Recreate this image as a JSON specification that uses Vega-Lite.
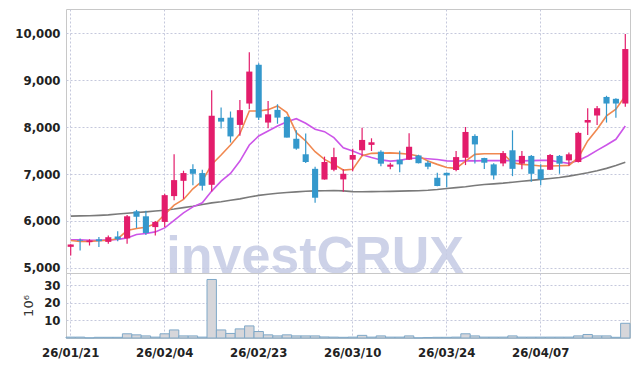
{
  "$schema": "https://vega.github.io/schema/vega-lite/v6.json",
  "background": "white",
  "padding": {"left": 14, "top": 8, "right": 10, "bottom": 5},
  "spacing": 0,
  "bounds": "flush",
  "config": {
    "view": {"stroke": "#c8c8c8"},
    "axis": {"labelFont": "DejaVu Sans Condensed", "labelFontWeight": "bold", "labelFontSize": 13, "labelColor": "#222", "gridColor": "#c5c8dc", "gridDash": [2, 2], "gridOpacity": 1, "ticks": false, "domain": false, "labelPadding": 6}
  },
  "datasets": {
    "d": [
      {"date": "26/01/21", "open": 5450, "high": 5505, "low": 5265, "close": 5500, "vol": 0.5, "ma5": 5584, "ma20": 5597, "ma60": 6103},
      {"date": "26/01/22", "open": 5590, "high": 5625, "low": 5370, "close": 5575, "vol": 0.5, "ma5": 5565, "ma20": 5597, "ma60": 6108},
      {"date": "26/01/23", "open": 5550, "high": 5612, "low": 5478, "close": 5585, "vol": 0.1, "ma5": 5562, "ma20": 5590, "ma60": 6112},
      {"date": "26/01/26", "open": 5610, "high": 5661, "low": 5448, "close": 5570, "vol": 0.4, "ma5": 5580, "ma20": 5588, "ma60": 6120},
      {"date": "26/01/27", "open": 5555, "high": 5690, "low": 5516, "close": 5655, "vol": 0.4, "ma5": 5590, "ma20": 5597, "ma60": 6130},
      {"date": "26/01/28", "open": 5670, "high": 5783, "low": 5570, "close": 5612, "vol": 0.4, "ma5": 5620, "ma20": 5605, "ma60": 6150},
      {"date": "26/01/29", "open": 5630, "high": 6130, "low": 5515, "close": 6100, "vol": 2.4, "ma5": 5797, "ma20": 5640, "ma60": 6165},
      {"date": "26/01/30", "open": 6205, "high": 6235, "low": 5850, "close": 6090, "vol": 1.8, "ma5": 5840, "ma20": 5712, "ma60": 6180},
      {"date": "26/02/02", "open": 6100, "high": 6220, "low": 5700, "close": 5745, "vol": 1.2, "ma5": 5868, "ma20": 5733, "ma60": 6195},
      {"date": "26/02/03", "open": 5870, "high": 6000, "low": 5690, "close": 5980, "vol": 0.5, "ma5": 5939, "ma20": 5768, "ma60": 6212},
      {"date": "26/02/04", "open": 5980, "high": 6580, "low": 5870, "close": 6550, "vol": 2.4, "ma5": 6139, "ma20": 5853, "ma60": 6230},
      {"date": "26/02/05", "open": 6530, "high": 7420, "low": 6440, "close": 6870, "vol": 4.6, "ma5": 6337, "ma20": 6011, "ma60": 6255},
      {"date": "26/02/06", "open": 6855, "high": 7070, "low": 6470, "close": 7020, "vol": 1.2, "ma5": 6459, "ma20": 6173, "ma60": 6285},
      {"date": "26/02/09", "open": 7105, "high": 7210, "low": 6760, "close": 7005, "vol": 1.2, "ma5": 6685, "ma20": 6301, "ma60": 6315},
      {"date": "26/02/10", "open": 7020, "high": 7090, "low": 6650, "close": 6750, "vol": 0.5, "ma5": 6849, "ma20": 6387, "ma60": 6350},
      {"date": "26/02/11", "open": 6770, "high": 8785, "low": 6625, "close": 8240, "vol": 33.4, "ma5": 7205, "ma20": 6636, "ma60": 6385},
      {"date": "26/02/12", "open": 8195, "high": 8415, "low": 7970, "close": 8115, "vol": 4.6, "ma5": 7404, "ma20": 6849, "ma60": 6410},
      {"date": "26/02/13", "open": 8200, "high": 8330, "low": 7670, "close": 7800, "vol": 2.6, "ma5": 7617, "ma20": 7013, "ma60": 6440},
      {"date": "26/02/19", "open": 8045, "high": 8575, "low": 7815, "close": 8360, "vol": 5.2, "ma5": 7858, "ma20": 7276, "ma60": 6470},
      {"date": "26/02/20", "open": 8500, "high": 9590, "low": 8380, "close": 9180, "vol": 6.9, "ma5": 8342, "ma20": 7617, "ma60": 6510},
      {"date": "26/02/23", "open": 9325, "high": 9355, "low": 8150, "close": 8200, "vol": 3.7, "ma5": 8342, "ma20": 7809, "ma60": 6545},
      {"date": "26/02/24", "open": 8095, "high": 8555, "low": 7975, "close": 8270, "vol": 1.8, "ma5": 8370, "ma20": 7916, "ma60": 6570},
      {"date": "26/02/25", "open": 8365, "high": 8485, "low": 8070, "close": 8200, "vol": 1.2, "ma5": 8449, "ma20": 8022, "ma60": 6590},
      {"date": "26/02/26", "open": 8215, "high": 8230, "low": 7775, "close": 7775, "vol": 1.8, "ma5": 8306, "ma20": 8114, "ma60": 6605},
      {"date": "26/02/27", "open": 7750, "high": 7930, "low": 7515, "close": 7540, "vol": 1.2, "ma5": 7880, "ma20": 8178, "ma60": 6620},
      {"date": "26/03/03", "open": 7420, "high": 7860, "low": 7235, "close": 7255, "vol": 1.2, "ma5": 7702, "ma20": 8080, "ma60": 6632},
      {"date": "26/03/04", "open": 7110, "high": 7155, "low": 6390, "close": 6495, "vol": 1.2, "ma5": 7474, "ma20": 7952, "ma60": 6640},
      {"date": "26/03/05", "open": 6885, "high": 7370, "low": 6880, "close": 7255, "vol": 0.6, "ma5": 7312, "ma20": 7901, "ma60": 6645},
      {"date": "26/03/06", "open": 7090, "high": 7560, "low": 7060, "close": 7360, "vol": 0.5, "ma5": 7205, "ma20": 7773, "ma60": 6648},
      {"date": "26/03/09", "open": 6885, "high": 7100, "low": 6620, "close": 7005, "vol": 0.4, "ma5": 7084, "ma20": 7560, "ma60": 6640},
      {"date": "26/03/10", "open": 7305, "high": 7540, "low": 7060, "close": 7405, "vol": 0.5, "ma5": 7099, "ma20": 7490, "ma60": 6625},
      {"date": "26/03/11", "open": 7505, "high": 7985, "low": 7385, "close": 7725, "vol": 1.5, "ma5": 7390, "ma20": 7410, "ma60": 6622},
      {"date": "26/03/12", "open": 7620, "high": 7760, "low": 7490, "close": 7675, "vol": 0.5, "ma5": 7440, "ma20": 7350, "ma60": 6625},
      {"date": "26/03/13", "open": 7475, "high": 7505, "low": 7165, "close": 7220, "vol": 1.2, "ma5": 7445, "ma20": 7300, "ma60": 6628},
      {"date": "26/03/16", "open": 7155, "high": 7240, "low": 7100, "close": 7200, "vol": 0.5, "ma5": 7450, "ma20": 7275, "ma60": 6630},
      {"date": "26/03/17", "open": 7305, "high": 7495, "low": 7040, "close": 7205, "vol": 0.5, "ma5": 7440, "ma20": 7290, "ma60": 6635},
      {"date": "26/03/18", "open": 7305, "high": 7865, "low": 7300, "close": 7580, "vol": 1.2, "ma5": 7420, "ma20": 7330, "ma60": 6640},
      {"date": "26/03/19", "open": 7395, "high": 7410, "low": 7225, "close": 7230, "vol": 0.1, "ma5": 7383, "ma20": 7340, "ma60": 6645},
      {"date": "26/03/20", "open": 7240, "high": 7280, "low": 7100, "close": 7155, "vol": 0.3, "ma5": 7276, "ma20": 7325, "ma60": 6655},
      {"date": "26/03/23", "open": 6920, "high": 7025, "low": 6740, "close": 6745, "vol": 0.4, "ma5": 7205, "ma20": 7310, "ma60": 6670},
      {"date": "26/03/24", "open": 7025, "high": 7030, "low": 6720, "close": 6970, "vol": 0.4, "ma5": 7140, "ma20": 7280, "ma60": 6690},
      {"date": "26/03/25", "open": 7085, "high": 7490, "low": 7060, "close": 7360, "vol": 0.5, "ma5": 7120, "ma20": 7275, "ma60": 6710},
      {"date": "26/03/26", "open": 7345, "high": 8000, "low": 7190, "close": 7895, "vol": 2.4, "ma5": 7276, "ma20": 7285, "ma60": 6730},
      {"date": "26/03/27", "open": 7810, "high": 7845, "low": 7225, "close": 7630, "vol": 1.2, "ma5": 7418, "ma20": 7280, "ma60": 6755},
      {"date": "26/03/30", "open": 7340, "high": 7345, "low": 7105, "close": 7240, "vol": 0.5, "ma5": 7432, "ma20": 7285, "ma60": 6775},
      {"date": "26/03/31", "open": 7205, "high": 7230, "low": 6885, "close": 6970, "vol": 0.5, "ma5": 7432, "ma20": 7285, "ma60": 6790},
      {"date": "26/04/01", "open": 7225, "high": 7490, "low": 7165, "close": 7445, "vol": 0.5, "ma5": 7432, "ma20": 7285, "ma60": 6805},
      {"date": "26/04/02", "open": 7505, "high": 7930, "low": 6955, "close": 7110, "vol": 1.2, "ma5": 7240, "ma20": 7285, "ma60": 6825},
      {"date": "26/04/03", "open": 7220, "high": 7490, "low": 7100, "close": 7385, "vol": 0.5, "ma5": 7205, "ma20": 7280, "ma60": 6845},
      {"date": "26/04/06", "open": 7385, "high": 7405, "low": 6835, "close": 7005, "vol": 0.5, "ma5": 7191, "ma20": 7285, "ma60": 6865},
      {"date": "26/04/07", "open": 7100, "high": 7205, "low": 6760, "close": 6885, "vol": 0.5, "ma5": 7170, "ma20": 7290, "ma60": 6885},
      {"date": "26/04/08", "open": 7090, "high": 7425, "low": 7085, "close": 7405, "vol": 0.5, "ma5": 7170, "ma20": 7290, "ma60": 6905},
      {"date": "26/04/09", "open": 7385, "high": 7405, "low": 7005, "close": 7220, "vol": 0.5, "ma5": 7177, "ma20": 7255, "ma60": 6925},
      {"date": "26/04/10", "open": 7290, "high": 7460, "low": 7175, "close": 7420, "vol": 0.5, "ma5": 7184, "ma20": 7227, "ma60": 6955},
      {"date": "26/04/13", "open": 7255, "high": 7900, "low": 7245, "close": 7875, "vol": 1.2, "ma5": 7347, "ma20": 7290, "ma60": 6990},
      {"date": "26/04/14", "open": 8095, "high": 8400, "low": 7830, "close": 8150, "vol": 2.0, "ma5": 7703, "ma20": 7383, "ma60": 7025},
      {"date": "26/04/15", "open": 8245, "high": 8445, "low": 8045, "close": 8400, "vol": 1.2, "ma5": 7952, "ma20": 7504, "ma60": 7070},
      {"date": "26/04/16", "open": 8640, "high": 8665, "low": 8095, "close": 8500, "vol": 1.2, "ma5": 8236, "ma20": 7617, "ma60": 7120},
      {"date": "26/04/17", "open": 8600, "high": 8610, "low": 8200, "close": 8500, "vol": 0.4, "ma5": 8378, "ma20": 7739, "ma60": 7180},
      {"date": "26/04/20", "open": 8500, "high": 9980, "low": 8430, "close": 9660, "vol": 8.4, "ma5": 8663, "ma20": 8022, "ma60": 7250}
    ],
    "wm": [{"date": "26/03/04", "price": 4893, "label": "investCRUX"}]
  },
  "resolve": {"scale": {"x": "independent"}},
  "vconcat": [
    {
      "width": 564,
      "height": 264,
      "data": {"name": "d"},
      "encoding": {
        "x": {"field": "date", "type": "ordinal", "sort": null, "title": null,
          "scale": {"paddingInner": 0.35, "paddingOuter": 0.175,
            "domain": ["26/01/21", "26/01/22", "26/01/23", "26/01/26", "26/01/27", "26/01/28", "26/01/29", "26/01/30", "26/02/02", "26/02/03", "26/02/04", "26/02/05", "26/02/06", "26/02/09", "26/02/10", "26/02/11", "26/02/12", "26/02/13", "26/02/19", "26/02/20", "26/02/23", "26/02/24", "26/02/25", "26/02/26", "26/02/27", "26/03/03", "26/03/04", "26/03/05", "26/03/06", "26/03/09", "26/03/10", "26/03/11", "26/03/12", "26/03/13", "26/03/16", "26/03/17", "26/03/18", "26/03/19", "26/03/20", "26/03/23", "26/03/24", "26/03/25", "26/03/26", "26/03/27", "26/03/30", "26/03/31", "26/04/01", "26/04/02", "26/04/03", "26/04/06", "26/04/07", "26/04/08", "26/04/09", "26/04/10", "26/04/13", "26/04/14", "26/04/15", "26/04/16", "26/04/17", "26/04/20"]},
          "axis": {"values": ["26/01/21", "26/02/04", "26/02/23", "26/03/10", "26/03/24", "26/04/07"], "labels": false, "grid": true, "labelPadding": 0, "minExtent": 0, "maxExtent": 0}}
      },
      "layer": [
        {
          "data": {"name": "wm"},
          "mark": {"type": "text", "clip": true, "font": "Liberation Sans", "fontWeight": "bold", "fontSize": 52, "color": "#c5cbe4", "opacity": 0.85, "align": "center", "baseline": "alphabetic"},
          "encoding": {
            "y": {"field": "price", "type": "quantitative", "scale": {"domain": [4893, 10512], "nice": false, "zero": false}, "title": null},
            "text": {"field": "label"}
          }
        },
        {
          "mark": {"type": "line", "color": "#7a7a7a", "strokeWidth": 1.6},
          "encoding": {"y": {"field": "ma60", "type": "quantitative", "title": null,
            "axis": {"values": [5000, 6000, 7000, 8000, 9000, 10000], "format": ",d", "grid": true}}}
        },
        {
          "mark": {"type": "line", "color": "#cc55e8", "strokeWidth": 1.6},
          "encoding": {"y": {"field": "ma20", "type": "quantitative", "title": null}}
        },
        {
          "mark": {"type": "line", "color": "#f08850", "strokeWidth": 1.6},
          "encoding": {"y": {"field": "ma5", "type": "quantitative", "title": null}}
        },
        {
          "mark": {"type": "rule", "strokeWidth": 1.2},
          "encoding": {
            "y": {"field": "low", "type": "quantitative", "title": null},
            "y2": {"field": "high"},
            "color": {"condition": {"test": "datum.close > datum.open", "value": "#e31c6b"}, "value": "#3498cc"}
          }
        },
        {
          "mark": {"type": "bar"},
          "encoding": {
            "y": {"field": "open", "type": "quantitative", "title": null},
            "y2": {"field": "close"},
            "color": {"condition": {"test": "datum.close > datum.open", "value": "#e31c6b"}, "value": "#3498cc"}
          }
        }
      ]
    },
    {
      "width": 564,
      "height": 65,
      "data": {"name": "d"},
      "mark": {"type": "bar", "fill": "#d6d6da", "stroke": "#7fa8c8", "strokeWidth": 1},
      "encoding": {
        "x": {"field": "date", "type": "ordinal", "sort": null, "title": null,
          "scale": {"paddingInner": 0, "paddingOuter": 0},
          "axis": {"values": ["26/01/21", "26/02/04", "26/02/23", "26/03/10", "26/03/24", "26/04/07"], "labelAngle": 0, "labelPadding": 8, "labelFontSize": 13, "grid": true}},
        "y": {"field": "vol", "type": "quantitative", "scale": {"domain": [0, 37.1], "nice": false},
          "axis": {"values": [10, 20, 30], "grid": true, "title": "10⁶", "titleFont": "DejaVu Sans", "titleFontWeight": "normal", "titleFontSize": 13, "titleColor": "#333", "titlePadding": 8}}
      }
    }
  ]
}
